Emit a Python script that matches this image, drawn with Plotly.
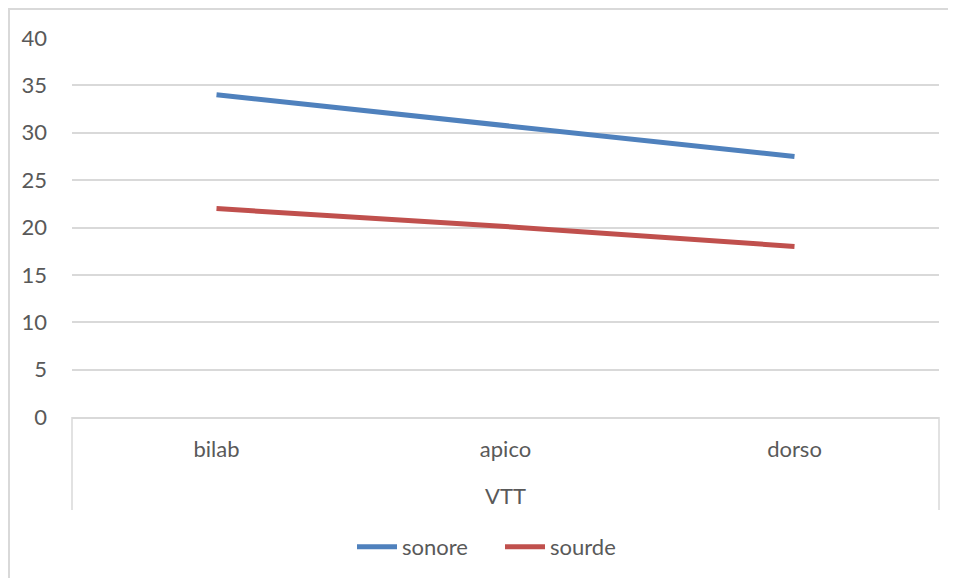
import plotly.graph_objects as go

categories = ["bilab", "apico", "dorso"]
group_label = "VTT"
sonore = [34.0, 30.8, 27.5]
sourde = [22.0, 20.1, 18.0]
series_names = ["sonore", "sourde"]

# page places the figure at (8, 8); work in figure coordinates
OFF = 8
W, H = 956, 578
L, R, T, B = 72 - OFF, 939 - OFF, 38 - OFF, 417 - OFF
pw, ph = R - L, B - T

def px_x(p):
    return (p - OFF - L) / pw

def px_y(p):
    return (B - (p - OFF)) / ph

font_family = "Lato, 'Open Sans', sans-serif"
fs = 22
txt_color = "#595959"
grid_color = "#d9d9d9"

fig = go.Figure()
fig.add_trace(go.Scatter(x=categories, y=sonore, mode="lines", name=series_names[0],
                         line=dict(color="#4F81BD", width=5)))
fig.add_trace(go.Scatter(x=categories, y=sourde, mode="lines", name=series_names[1],
                         line=dict(color="#C0504D", width=5)))

fig.update_layout(
    width=W - OFF, height=H - OFF,
    margin=dict(l=L, r=(W - OFF) - R, t=T, b=(H - OFF) - B, autoexpand=False),
    paper_bgcolor="white", plot_bgcolor="white",
    font=dict(family=font_family, size=fs, color=txt_color),
    showlegend=True,
    legend=dict(orientation="h", x=px_x(500), xanchor="center", y=px_y(547), yanchor="middle",
                font=dict(size=fs, color=txt_color), itemwidth=40, entrywidth=93,
                tracegroupgap=0),
    xaxis=dict(type="category", range=[-0.5, 2.5], showgrid=False, zeroline=False,
               showline=True, linecolor=grid_color, linewidth=1.5,
               ticks="", ticklabelstandoff=12, tickfont=dict(size=fs, color=txt_color)),
    yaxis=dict(range=[0, 40], dtick=5, showgrid=True, gridcolor=grid_color, gridwidth=1.5,
               zeroline=False, showline=False, ticks="", ticklabelstandoff=24,
               tickfont=dict(size=fs, color=txt_color)),
)

shapes = [
    dict(type="rect", xref="paper", yref="paper", x0=px_x(9), x1=px_x(1000), y0=px_y(9), y1=px_y(650),
         line=dict(color="#d9d9d9", width=2), fillcolor="rgba(0,0,0,0)", layer="below"),
    dict(type="line", xref="paper", yref="paper", x0=0, x1=0, y0=0, y1=px_y(510),
         line=dict(color=grid_color, width=1.5)),
    dict(type="line", xref="paper", yref="paper", x0=1, x1=1, y0=0, y1=px_y(510),
         line=dict(color=grid_color, width=1.5)),
]
fig.update_layout(shapes=shapes)
fig.add_annotation(text=group_label, xref="paper", yref="paper", x=0.5, y=px_y(495),
                   xanchor="center", yanchor="middle", showarrow=False,
                   font=dict(size=fs, color=txt_color))

fig.write_html("out.html")
